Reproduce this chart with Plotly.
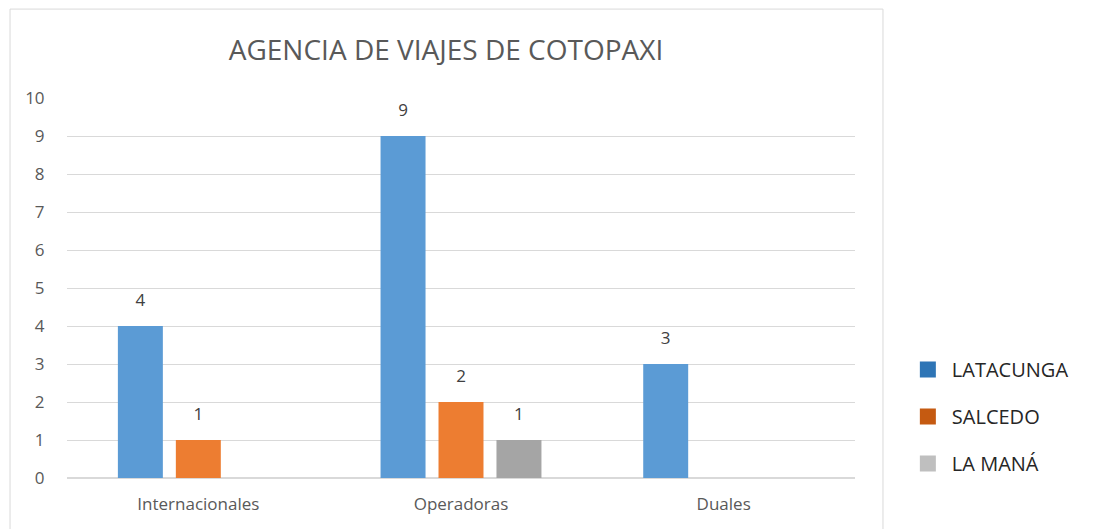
import plotly.graph_objects as go

categories = ["Internacionales", "Operadoras", "Duales"]
series_names = ["LATACUNGA", "SALCEDO", "LA MANÁ"]
latacunga = [4, 9, 3]
salcedo = [1, 2, 0]
la_mana = [0, 1, 0]
y_ticks = list(range(0, 11))

bar_colors = ["#5B9BD5", "#ED7D31", "#A5A5A5"]
legend_colors = ["#2E75B6", "#C55A11", "#BFBFBF"]
FONT = "Open Sans"

fig = go.Figure()
for name, vals, col in zip(series_names, [latacunga, salcedo, la_mana], bar_colors):
    fig.add_trace(go.Bar(
        x=categories, y=vals, name=name, marker_color=col, marker_line_width=0,
        text=[f"<span style='font-size:17px'>{v}</span><br> " for v in vals],
        textposition=["outside" if v else "none" for v in vals], cliponaxis=False,
        textfont=dict(family=FONT, size=11, color="#404040"),
        showlegend=False, hoverinfo="x+y+name",
    ))

for i, (name, col) in enumerate(zip(series_names, legend_colors)):
    fig.add_trace(go.Scatter(
        x=[None], y=[None], mode="markers", name=name,
        marker=dict(symbol="square", size=16, color=col),
        legendgroup=f"g{i}", showlegend=True,
    ))

fig.add_shape(type="rect", xref="paper", yref="paper",
              x0=-0.0723, x1=1.0355, y0=-0.3, y1=1.234,
              line=dict(color="#D9D9D9", width=1), fillcolor="rgba(0,0,0,0)", layer="below")

fig.update_layout(
    width=1088, height=521,
    margin=dict(l=59, r=241, t=90, b=51),
    paper_bgcolor="white", plot_bgcolor="white",
    barmode="group", bargap=0.338, bargroupgap=0.224,
    title=dict(text="AGENCIA DE VIAJES DE COTOPAXI", x=0.4026, xanchor="center",
               y=0.919, yanchor="middle",
               font=dict(family=FONT, size=28, color="#595959")),
    legend=dict(x=1.062, xanchor="left", y=0.337, yanchor="top",
                traceorder="grouped", tracegroupgap=18,
                font=dict(family=FONT, size=20, color="#262626"),
                itemwidth=38, bgcolor="rgba(0,0,0,0)"),
    xaxis=dict(showgrid=False, showline=False, zeroline=False,
               ticks="outside", ticklen=11, tickcolor="rgba(0,0,0,0)",
               tickfont=dict(family=FONT, size=17, color="#595959")),
    yaxis=dict(range=[0, 10], tickvals=y_ticks, showgrid=True, gridcolor="#D9D9D9",
               gridwidth=1, zeroline=True, zerolinecolor="#D9D9D9", showline=False,
               ticks="outside", ticklen=18, tickcolor="rgba(0,0,0,0)",
               tickfont=dict(family=FONT, size=17, color="#595959")),
    hovermode="closest",
)

fig.write_html("out.html")
